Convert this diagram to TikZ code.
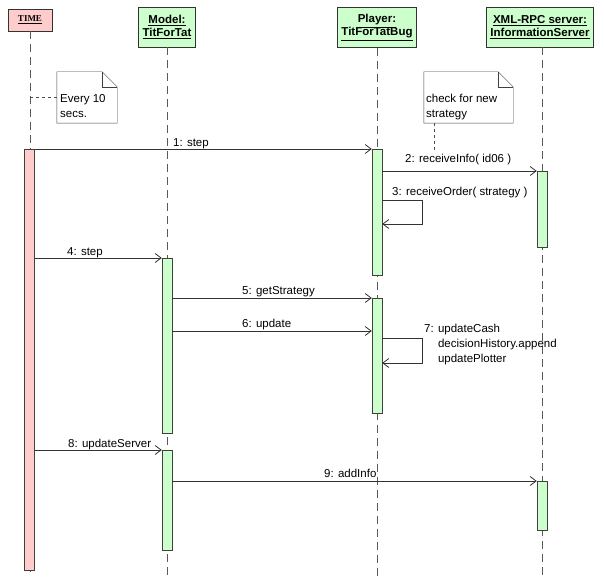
\documentclass[tikz,border=0pt]{standalone}
\usepackage{fontspec}
\setmainfont{Liberation Sans}
\newfontfamily\serifhead{Liberation Serif}
\usetikzlibrary{arrows.meta,fit}
\definecolor{lifepink}{RGB}{255,204,204}
\definecolor{lifegreen}{RGB}{204,255,204}
\tikzset{
	head/.style={draw=black!80, fill=lifegreen, align=center, inner xsep=4pt, minimum height=40pt, font=\bfseries\fontsize{11.5}{13}\selectfont},
	lifeline/.style={draw=black!65, line width=1pt, dash pattern=on 8pt off 5pt},
	actbar/.style={draw=black!75, fill=lifegreen, anchor=north, minimum width=10pt, inner sep=0pt},
	msg/.style={draw=black!80, line width=0.8pt, -{Straight Barb[length=6pt,width=9pt]}},
	lbl/.style={anchor=base west, inner sep=0pt, font=\fontsize{11.5}{15}\selectfont},
	notelink/.style={draw=black!70, line width=0.8pt, dashed},
}
\def\foldnote#1(#2)(#3){%
	\node[inner sep=0pt, fit={(#2) (#3)}] (#1) {};
	\draw[fill=white, draw=black!75] (#1.north west) -- ([xshift=-15pt]#1.north east) -- ([yshift=-15pt]#1.north east) -- (#1.south east) -- (#1.south west) -- cycle;
	\draw[black!75] ([xshift=-15pt]#1.north east) -- ([xshift=-15pt,yshift=-15pt]#1.north east) -- ([yshift=-15pt]#1.north east);}

\begin{document}
\begin{tikzpicture}[x=1pt, y=-1pt]
	%%%%% START %%%%%
	\useasboundingbox (0,0) rectangle (605,577);
	\coordinate (bottom) at (0,577);

	\node[head, fill=lifepink, minimum width=44pt, minimum height=22pt, font=\serifhead\bfseries\fontsize{9}{11}\selectfont] (time) at (30,20) {\underline{TIME}};
	\node[head] (model) at (167,27) {\underline{Model:}\\\underline{TitForTat}};
	\node[head] (player) at (377,27.5) {\underline{Player:}\\\underline{TitForTatBug}};
	\node[head] (server) at (540,27) {\underline{XML-RPC server:}\\\underline{InformationServer}};

	\draw[lifeline] (time.south) -- (time.south |- bottom);
	\draw[lifeline] (model.south) -- (model.south |- bottom);
	\draw[lifeline] (player.south) -- (player.south |- bottom);
	\draw[lifeline] ([xshift=2pt]server.south) -- ([xshift=2pt]server.south |- bottom);

	\foldnote{note1}(57,72)(117,123)
	\node[lbl, align=left, anchor=north west] (note1txt) at (60,94) {Every 10\\secs.};
	\draw[notelink] (time.south |- note1.west) -- (note1.west);

	\foldnote{note2}(424,72)(513,123)
	\node[lbl, align=left, anchor=north west] (note2txt) at (426,94) {check for new\\strategy};
	\coordinate (n2end) at (434,152);
	\draw[notelink] (note2.south -| n2end) -- (n2end);

	\node[actbar, fill=lifepink, minimum height=421pt] (tact) at (29.5,149) {};
	\node[actbar, minimum height=175pt] (mact1) at (167,258) {};
	\node[actbar, minimum height=100pt] (mact2) at (167,450) {};
	\node[actbar, minimum height=126pt] (pact1) at (377,149) {};
	\node[actbar, minimum height=115pt] (pact2) at (377,298) {};
	\node[actbar, minimum height=76pt] (sact1) at (542,171) {};
	\node[actbar, minimum height=49pt] (sact2) at (542,481) {};

	\draw[msg] (tact.north east) -- (pact1.north west);
	\node[lbl] (l1) at (173,146.5) {1: step};

	\draw[msg] (pact1.east |- sact1.north) -- (sact1.north west);
	\node[lbl] (l2) at (405,163) {2: receiveInfo( id06 )};

	\draw[msg] (pact1.east |- 0,200) -- ++(40,0) |- (pact1.east |- 0,224);
	\node[lbl] (l3) at (392,196) {3: receiveOrder( strategy )};

	\draw[msg] (tact.east |- mact1.north) -- (mact1.north west);
	\node[lbl] (l4) at (67,256) {4: step};

	\draw[msg] (mact1.east |- pact2.north) -- (pact2.north west);
	\node[lbl] (l5) at (242,295) {5: getStrategy};

	\draw[msg] (mact1.east |- 0,331) -- (pact2.west |- 0,331);
	\node[lbl] (l6) at (242,327) {6: update};

	\draw[msg] (pact2.east |- 0,338) -- ++(40,0) |- (pact2.east |- 0,363);
	\node[lbl, align=left, anchor=north west] (l7) at (424,324) {7: updateCash\\\phantom{7: }decisionHistory.append\\\phantom{7: }updatePlotter};

	\draw[msg] (tact.east |- mact2.north) -- (mact2.north west);
	\node[lbl] (l8) at (68,447.5) {8: updateServer};

	\draw[msg] (mact2.east |- sact2.north) -- (sact2.north west);
	\node[lbl] (l9) at (324,477) {9: addInfo};
	%%%%% END %%%%%
\end{tikzpicture}
\end{document}
